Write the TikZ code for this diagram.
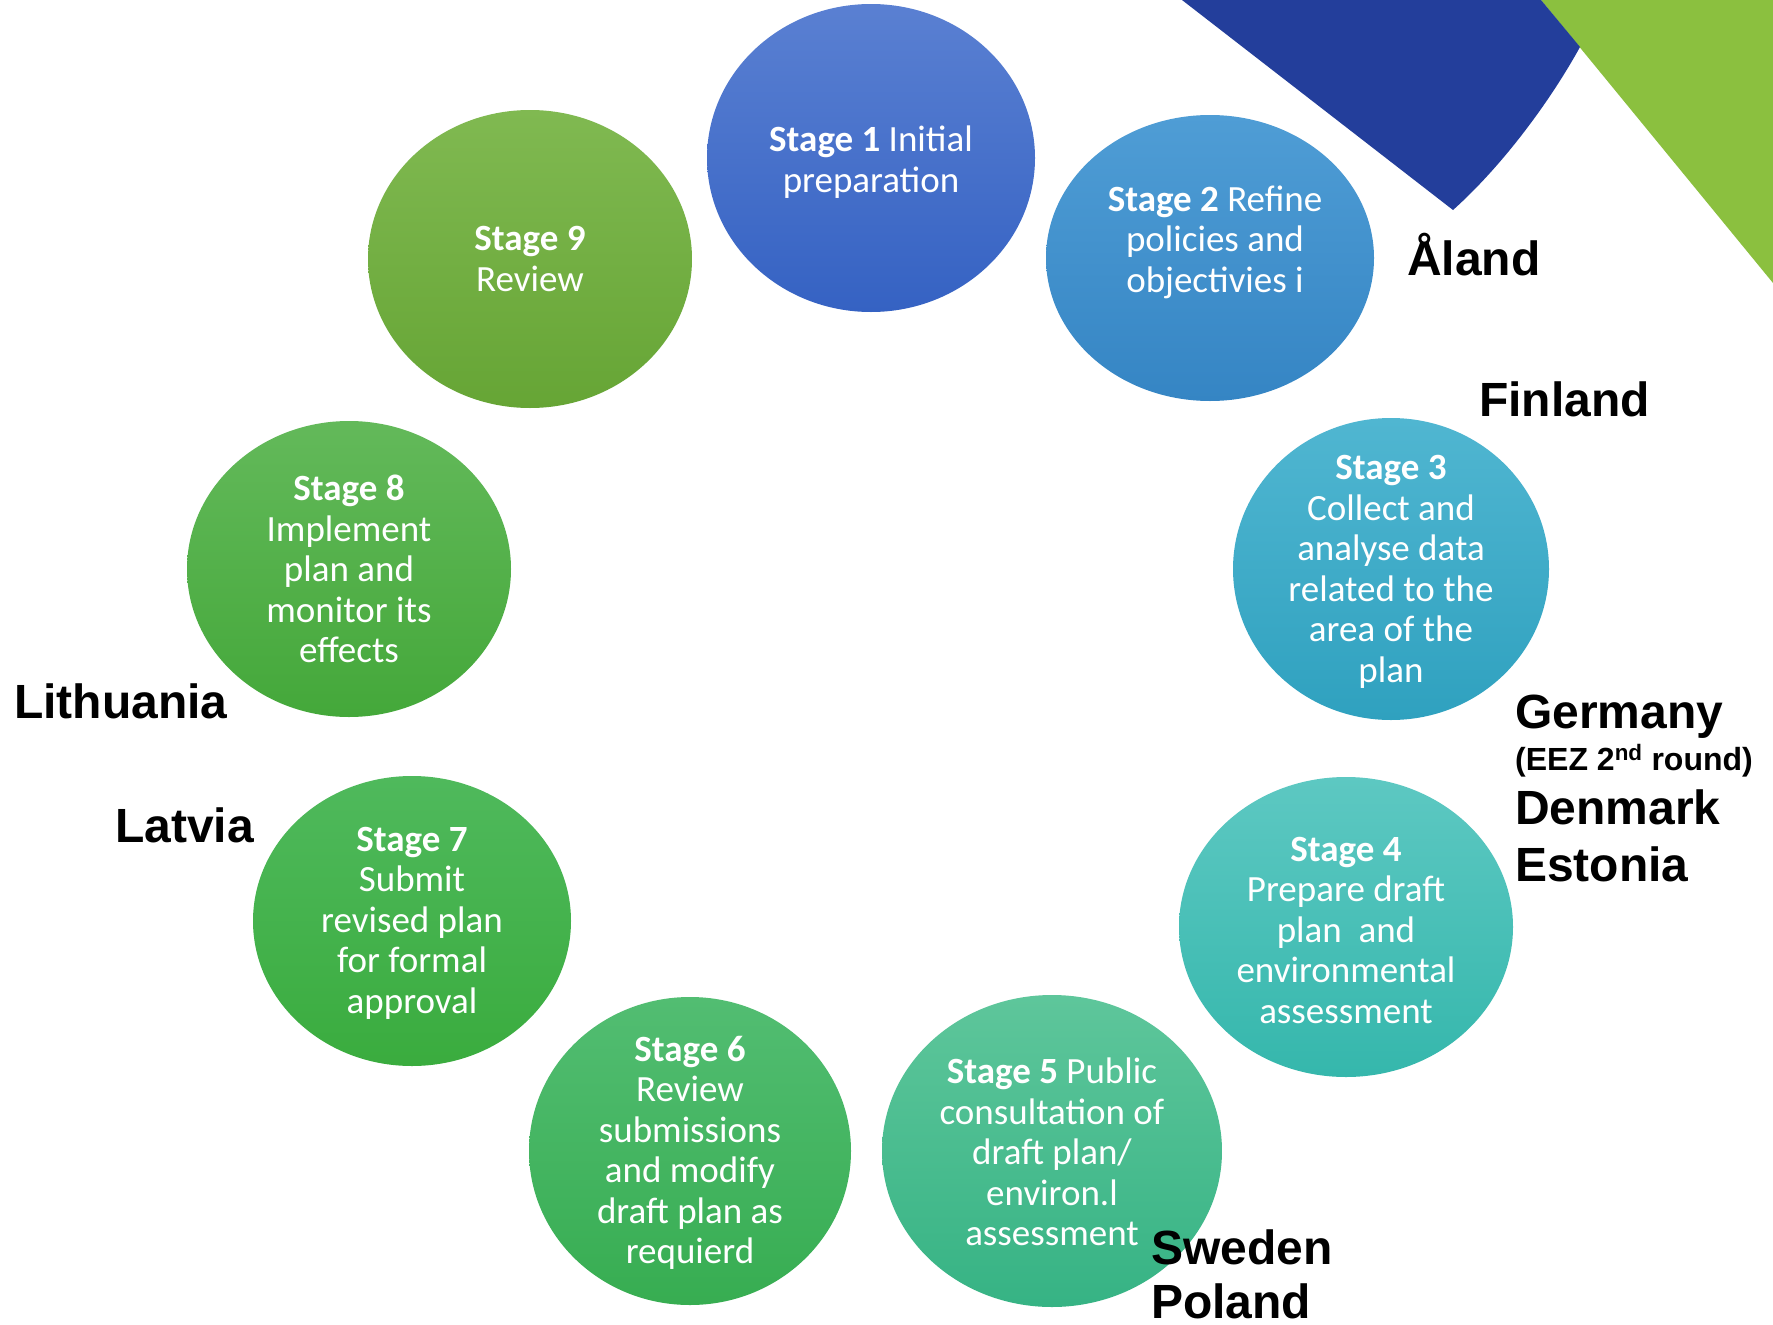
\documentclass[tikz,border=0pt]{standalone}
\usepackage{fontspec}
\setmainfont{Liberation Sans}
\newfontfamily\calib{Carlito}
\newfontfamily\arialb{Liberation Sans}
\usetikzlibrary{shapes.geometric}
\definecolor{darkblue}{HTML}{233E9B}
\definecolor{lightgreen}{HTML}{8BC03F}
\definecolor{sAt}{HTML}{5A80D2}\definecolor{sAb}{HTML}{3562C3}
\definecolor{sBt}{HTML}{4F9DD5}\definecolor{sBb}{HTML}{3585C4}
\definecolor{sCt}{HTML}{50B6D1}\definecolor{sCb}{HTML}{2FA1BF}
\definecolor{sDt}{HTML}{5DC8C2}\definecolor{sDb}{HTML}{35B7AC}
\definecolor{sEt}{HTML}{5EC69B}\definecolor{sEb}{HTML}{36B384}
\definecolor{sFt}{HTML}{52BD72}\definecolor{sFb}{HTML}{37AD51}
\definecolor{sGt}{HTML}{4FB95C}\definecolor{sGb}{HTML}{3AAC3E}
\definecolor{sHt}{HTML}{63B95A}\definecolor{sHb}{HTML}{44A83A}
\definecolor{sIt}{HTML}{80B951}\definecolor{sIb}{HTML}{66A535}
\tikzset{
  stagecircle/.style={ellipse, draw=none, inner sep=0pt},
  stagetext/.style={text=white, align=center, inner sep=0pt, font={\calib\fontsize{37}{40.5}\selectfont}},
  country/.style={anchor=base west, inner sep=0pt, text=black, font={\arialb\bfseries\fontsize{48}{50}\selectfont}},
  countrysmall/.style={anchor=base west, inner sep=0pt, text=black, font={\arialb\bfseries\fontsize{32}{34}\selectfont}}
}
\begin{document}
\begin{tikzpicture}[x=1pt,y=-1pt]
\useasboundingbox (0,0) rectangle (1773,1325);
\fill[white] (0,0) rectangle (1773,1325);
% corner decoration
\fill[lightgreen] (1541,0) -- (1773,0) -- (1773,283) -- cycle;
\fill[darkblue] (1182,0) -- (1453,210) .. controls (1500,168) and (1548,105) .. (1580,47) -- (1541,0) -- cycle;
% stage circles
\node[stagecircle, minimum width=328, minimum height=308, top color=sAt, bottom color=sAb] (c1) at (871,158) {};
\node[stagecircle, minimum width=328, minimum height=286, top color=sBt, bottom color=sBb] (c2) at (1210,258) {};
\node[stagecircle, minimum width=316, minimum height=302, top color=sCt, bottom color=sCb] (c3) at (1391,569) {};
\node[stagecircle, minimum width=334, minimum height=300, top color=sDt, bottom color=sDb] (c4) at (1346,927) {};
\node[stagecircle, minimum width=340, minimum height=312, top color=sEt, bottom color=sEb] (c5) at (1052,1151) {};
\node[stagecircle, minimum width=322, minimum height=308, top color=sFt, bottom color=sFb] (c6) at (690,1151) {};
\node[stagecircle, minimum width=318, minimum height=290, top color=sGt, bottom color=sGb] (c7) at (412,921) {};
\node[stagecircle, minimum width=324, minimum height=296, top color=sHt, bottom color=sHb] (c8) at (349,569) {};
\node[stagecircle, minimum width=324, minimum height=298, top color=sIt, bottom color=sIb] (c9) at (530,259) {};
% stage texts
\node[stagetext] (t1) at (871,162) {\textbf{Stage 1} Initial\\preparation};
\node[stagetext] (t2) at (1215,242) {\textbf{Stage 2} Refine\\policies and\\objectivies i};
\node[stagetext] (t3) at (1391,572) {\textbf{Stage 3}\\Collect and\\analyse data\\related to the\\area of the\\plan};
\node[stagetext] (t4) at (1346,930) {\textbf{Stage 4}\\Prepare draft\\plan\ \ and\\environmental\\assessment};
\node[stagetext] (t5) at (1052,1152) {\textbf{Stage 5} Public\\consultation of\\draft plan/\\environ.l\\assessment};
\node[stagetext] (t6) at (690,1153) {\textbf{Stage 6}\\Review\\submissions\\and modify\\draft plan as\\requierd};
\node[stagetext] (t7) at (412,923) {\textbf{Stage 7}\\Submit\\revised plan\\for formal\\approval};
\node[stagetext] (t8) at (349,569) {\textbf{Stage 8}\\Implement\\plan and\\monitor its\\effects};
\node[stagetext] (t9) at (530,259) {\textbf{Stage 9}\\Review};
% country labels
\node[country] (aland) at (1407,275) {Åland};
\node[country] (finland) at (1479,416) {Finland};
\node[country] (germany) at (1515,728) {Germany};
\node[countrysmall] (eez) at (1515,770) {(EEZ 2\textsuperscript{nd} round)};
\node[country] (denmark) at (1515,824) {Denmark};
\node[country] (estonia) at (1515,881) {Estonia};
\node[country] (lithuania) at (14,718) {Lithuania};
\node[country] (latvia) at (115,842) {Latvia};
\node[country] (sweden) at (1151,1264) {Sweden};
\node[country] (poland) at (1151,1318) {Poland};
\end{tikzpicture}
\end{document}
